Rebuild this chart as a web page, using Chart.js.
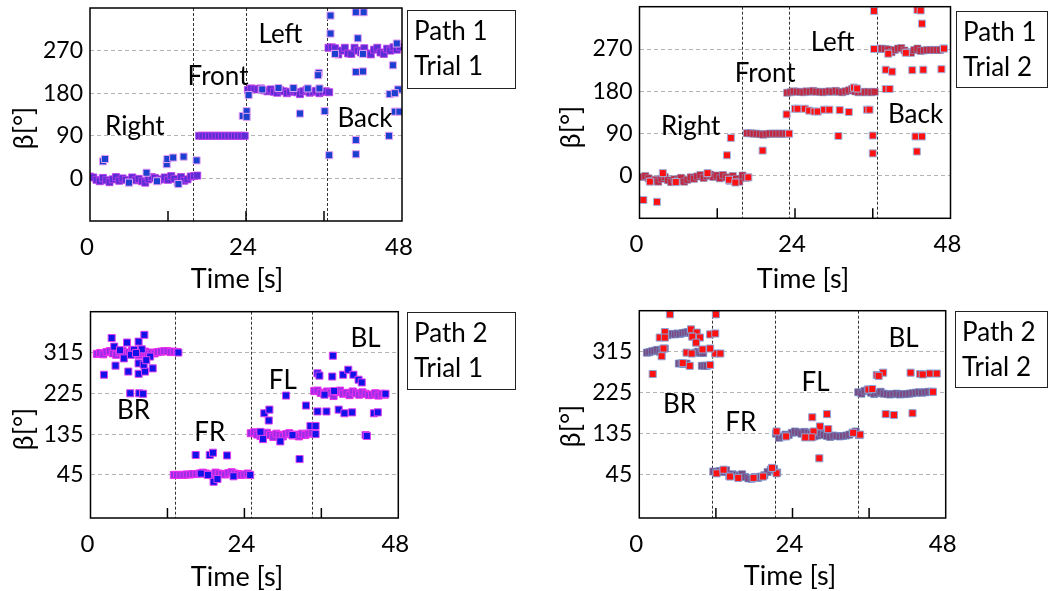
<!DOCTYPE html>
<html>
<head>
<meta charset="utf-8">
<script src="https://cdn.jsdelivr.net/npm/chart.js@4.4.0/dist/chart.umd.min.js"></script>
<style>
  html, body { margin: 0; padding: 0; background: #fff; }
  #wrap { position: relative; width: 1057px; height: 591px; overflow: hidden;
          font-family: Lato, "Open Sans", sans-serif; color: #000; }
  canvas { position: absolute; }
  .tag { position: absolute; box-sizing: border-box; border: 1px solid #222;
         font-size: 26px; line-height: 35px; padding: 2px 0 0 6px; white-space: nowrap; }
  .xt { position: absolute; font-size: 27px; white-space: nowrap; transform: translate(-50%, -50%); }
  .yt { position: absolute; font-size: 27px; white-space: nowrap; transform: translate(-50%, -50%) rotate(-90deg); }
</style>
</head>
<body>
<div id="wrap">
  <canvas id="c1" width="530" height="300" style="left:0;top:0;width:530px;height:300px"></canvas>
  <canvas id="c2" width="527" height="300" style="left:530px;top:0;width:527px;height:300px"></canvas>
  <canvas id="c3" width="530" height="291" style="left:0;top:300px;width:530px;height:291px"></canvas>
  <canvas id="c4" width="527" height="291" style="left:530px;top:300px;width:527px;height:291px"></canvas>

  <div class="tag" style="left:407px;top:10px;width:109px;height:79px">Path 1<br>Trial 1</div>
  <div class="tag" style="left:956px;top:11px;width:92px;height:77px">Path 1<br>Trial 2</div>
  <div class="tag" style="left:407px;top:312px;width:109px;height:78px">Path 2<br>Trial 1</div>
  <div class="tag" style="left:955px;top:311px;width:93px;height:77px">Path 2<br>Trial 2</div>

  <div class="xt" style="left:237px;top:277px">Time [s]</div>
  <div class="xt" style="left:803px;top:277px">Time [s]</div>
  <div class="xt" style="left:237px;top:575px">Time [s]</div>
  <div class="xt" style="left:790px;top:574px">Time [s]</div>

  <div class="yt" style="left:22px;top:128px">β[°]</div>
  <div class="yt" style="left:569px;top:127px">β[°]</div>
  <div class="yt" style="left:22px;top:429px">β[°]</div>
  <div class="yt" style="left:569px;top:426px">β[°]</div>
</div>
<script>
// ---- axes ----
const xTicks = [0, 12, 24, 36, 48];
const xLabelled = [0, 24, 48];
const yTicksPath1 = [0, 90, 180, 270];
const yTicksPath2 = [45, 135, 225, 315];

// ---- Path 1, Trial 1 ----
const p1BandT = [0.0,0.5,1.0,1.5,2.0,2.5,3.0,3.5,4.0,4.5,5.0,5.5,6.0,6.5,7.0,7.5,8.0,8.5,9.0,9.5,10.0,10.5,11.0,11.5,12.0,12.5,13.0,13.5,14.0,14.5,15.0,15.5,16.0,16.5,
  16.8,17.3,17.8,18.3,18.8,19.3,19.8,20.3,20.8,21.3,21.8,22.3,22.8,23.3,23.8,
  24.3,24.8,25.3,25.8,26.3,26.8,27.3,27.8,28.3,28.8,29.3,29.8,30.3,30.8,31.3,31.8,32.3,32.8,33.3,33.8,34.3,34.8,35.3,35.8,36.3,36.8,
  36.7,37.2,37.7,38.2,38.7,39.2,39.7,40.2,40.7,41.2,41.7,42.2,42.7,43.2,43.7,44.2,44.7,45.2,45.7,46.2,46.7,47.2,47.7];
const p1BandB = [4,2,-3,-6,1,-4,-8,-2,3,-5,0,-3,-7,2,-4,-1,-6,-9,-2,3,1,-4,-2,2,-3,5,-1,-8,3,-5,-2,4,5,6,
  90,90,90,90,90,90,90,90,90,90,90,90,90,90,90,
  187,190,189,188,190,186,184,188,183,181,186,184,180,183,186,182,178,184,187,181,183,185,180,183,184,182,
  276,277,275,262,270,276,264,263,276,270,266,275,264,262,272,276,266,263,274,270,277,272,278];
const p1Dots = [[2.0,36],[2.3,41],[11.8,30],[11.9,41],[12.8,44],[14.4,46],[16.4,38],[8.7,12],[6.0,-9],[13.6,-12],[10.3,-6],
  [23.5,132],[24.1,142],[24.1,130],[24.4,176],[32.3,137],[35.2,223],[35.1,218],[36.1,142],[35.3,190],[26.5,188],[29.0,191],[31.3,191],[33.5,190],
  [37.0,344],[37.0,306],[36.8,49],[40.9,81],[40.9,51],[40.9,225],[42.0,226],[40.9,351],[42.1,351],[41.2,296],[46.0,90],[46.6,239],
  [46.1,178],[47.4,188],[46.9,141],[47.6,141],[47.2,285],[46.9,180],[42.0,263],[37.7,263]];
const p1Splits = [15.9, 24.0, 36.4];
const p1Words = [['Right',6.9,111],['Front',19.7,217],['Left',29.3,305],['Back',42.3,128]];

// ---- Path 1, Trial 2 ----
const p2BandT = [0.4,0.9,1.4,1.9,2.4,2.9,3.4,3.9,4.4,4.9,5.4,5.9,6.4,6.9,7.4,7.9,8.4,8.9,9.4,9.9,10.4,10.9,11.4,11.9,12.4,12.9,13.4,13.9,14.4,14.9,15.4,15.9,16.4,
  16.6,17.1,17.6,18.1,18.6,19.1,19.6,20.1,20.6,21.1,21.6,22.1,22.6,
  22.8,23.3,23.8,24.3,24.8,25.3,25.8,26.3,26.8,27.3,27.8,28.3,28.8,29.3,29.8,30.3,30.8,31.3,31.8,32.3,32.8,33.3,33.8,34.3,34.8,35.3,35.8,36.3,
  36.4,36.9,37.4,37.9,38.4,38.9,39.4,39.9,40.4,40.9,41.4,41.9,42.4,42.9,43.4,43.9,44.4,44.9,45.4,45.9,46.4,46.9];
const p2BandB = [-2,0,-5,-11,-8,-12,-6,-2,-9,-13,-7,-10,-4,-12,-8,-3,-6,-1,2,-4,0,3,-2,1,-5,2,-3,-10,0,-6,-12,1,-4,
  91,91,90,90,89,88,89,90,90,90,90,90,90,
  177,178,180,179,179,178,180,179,181,179,179,178,179,180,179,181,179,178,180,182,185,180,178,179,178,179,178,179,
  270,270,271,270,269,263,268,271,272,267,263,262,268,271,266,267,268,268,268,268,268,271];
const p2Dots = [[0.0,-51],[0.6,-51],[2.7,-55],[13.5,44],[14.1,81],[1.6,-12],[5.6,-13],[10.5,6],[13.8,-8],[14.8,-14],[16.8,-3],[3.6,6],
  [19.0,54],[23.1,90],
  [22.7,131],[24.0,143],[24.4,143],[25.5,143],[26.2,139],[27.0,137],[27.5,137],[28.5,141],[29.3,141],[30.9,140],[32.3,136],[35.1,141],[35.5,141],
  [30.7,85],[36.0,86],[36.0,48],[36.2,351],[33.1,188],[33.6,186],
  [38.0,226],[39.0,222],[43.8,226],[42.1,225],[46.6,227],[38.0,185],[38.6,185],[42.9,353],[43.4,352],[43.6,324],[42.6,84],[43.6,84],[42.8,52],
  [36.2,270],[38.4,260],[41.1,262],[47.0,271]];
const p2Splits = [15.8, 23.0, 36.6];
const p2Words = [['Right',7.9,106],['Front',19.4,219],['Left',29.8,285],['Back',42.6,131]];

// ---- Path 2, Trial 1 ----
const p3BandT = [1.0,1.5,2.0,2.5,3.0,3.5,4.0,4.5,5.0,5.5,6.0,6.5,7.0,7.5,8.0,8.5,9.0,9.5,10.0,10.5,11.0,11.5,12.0,12.5,13.0,13.5,
  13.0,13.5,14.0,14.5,15.0,15.5,16.0,16.5,17.0,17.5,18.0,18.5,19.0,19.5,20.0,20.5,21.0,21.5,22.0,22.5,23.0,23.5,24.0,24.5,
  25.0,25.5,26.0,26.5,27.0,27.5,28.0,28.5,29.0,29.5,30.0,30.5,31.0,31.5,32.0,32.5,33.0,33.5,34.0,34.5,
  34.9,35.4,35.9,36.4,36.9,37.4,37.9,38.4,38.9,39.4,39.9,40.4,40.9,41.4,41.9,42.4,42.9,43.4,43.9,44.4,44.9,45.4,45.9];
const p3BandB = [312,314,311,316,318,313,310,316,319,312,315,320,313,309,314,317,312,315,313,316,317,318,318,316,317,316,
  45,45,45,45,46,46,47,47,48,50,48,46,44,50,48,47,46,49,51,48,47,45,46,48,
  137,139,134,131,136,138,133,129,136,133,130,135,137,132,134,130,136,133,136,138,
  230,231,226,224,229,226,219,228,231,224,226,221,229,225,222,227,224,221,222,225,220,224,222];
const p3Dots = [[3.3,347],[5.7,337],[7.5,339],[8.4,354],[8.0,322],[3.9,286],[2.1,266],[5.9,273],[7.5,268],[8.5,273],[7.5,291],[8.3,288],
  [9.7,280],[6.2,225],[7.6,225],[8.2,224],[5.2,302],[9.3,306],[3.7,328],[6.8,321],[4.6,320],[6.3,310],[7.1,314],[8.7,298],[13.7,315],
  [16.4,89],[18.6,89],[19.1,94],[21.3,88],[19.2,30],[18.3,45],[19.8,36],[22.3,42],[24.9,45],[17.2,48],
  [27.1,181],[27.9,189],[27.8,165],[30.5,220],[33.6,198],[32.6,80],[29.6,119],[26.9,124],[34.3,153],[35.1,153],[35.1,135],[26.5,140],[31.5,133],
  [37.8,308],[35.4,269],[35.7,264],[37.7,262],[39.4,266],[40.2,277],[41.0,266],[41.8,255],[42.3,249],[35.4,185],[36.8,185],[38.7,189],
  [39.6,181],[40.8,183],[42.9,133],[43.1,131],[44.2,181],[44.8,183],[36.5,222],[38.0,230],[46.0,224]];
const p3Splits = [13.1, 25.0, 34.5];
const p3Words = [['BR',6.7,189],['FR',18.6,140],['FL',30.0,254],['BL',42.9,348]];

// ---- Path 2, Trial 2 ----
const p4BandT = [1.2,1.6,2.0,2.4,2.8,3.2,3.6,4.0,4.4,4.8,5.2,5.6,6.0,6.4,6.8,7.2,7.6,8.0,6.2,6.6,7.0,7.4,9.8,10.2,10.6,8.8,9.2,9.6,10.0,
  11.6,12.1,12.6,13.1,13.6,14.1,14.6,15.1,15.6,16.1,16.6,17.1,17.6,18.1,18.6,19.1,19.6,20.1,20.6,21.1,21.6,
  21.4,21.9,22.4,22.9,23.4,23.9,24.4,24.9,25.4,25.9,26.4,26.9,27.4,27.9,28.4,28.9,29.4,29.9,30.4,30.9,31.4,31.9,32.4,32.9,33.4,33.9,34.4,
  34.3,34.8,35.3,35.8,36.3,36.8,37.3,37.8,38.3,38.8,39.3,39.8,40.3,40.8,41.3,41.8,42.3,42.8,43.3,43.8,44.3,44.8,45.3,45.8];
const p4BandB = [313,314,316,317,319,315,320,322,351,353,354,353,355,354,356,357,358,356,289,289,288,289,284,284,284,313,315,313,312,
  52,50,53,51,55,42,46,44,42,46,40,37,36,40,38,41,44,51,56,58,50,
  135,126,129,133,132,137,140,138,135,139,137,134,129,131,136,132,130,128,131,130,129,130,131,133,137,140,132,
  226,223,229,232,225,222,224,227,223,222,221,222,223,221,222,222,223,224,225,226,225,226,227,227];
const p4Dots = [[4.8,397],[12.0,397],[2.1,266],[3.2,346],[4.0,358],[4.0,346],[8.1,364],[9.0,357],[8.3,348],[9.5,346],[8.9,335],[9.9,320],
  [11.1,353],[11.9,355],[11.9,311],[12.7,311],[3.8,322],[3.5,305],[7.9,284],[11.1,286],[7.4,313],[8.2,311],[11.1,322],[6.8,290],
  [12.1,48],[14.2,41],[17.9,38],[19.4,41],[21.5,48],[13.2,56],[15.5,38],[20.8,60],
  [27.1,171],[29.4,178],[28.2,81],[28.3,151],[27.3,140],[29.6,145],[27.0,127],[21.5,140],[34.6,133],[26.0,127],[23.0,129],[33.5,137],
  [37.2,264],[38.2,269],[42.5,269],[44.0,266],[45.5,267],[46.6,267],[38.6,178],[39.9,176],[42.8,180],[35.9,232],[36.5,233],[37.5,262],[44.4,265],[46.0,227]];
const p4Splits = [11.4, 21.3, 34.3];
const p4Words = [['BR',6.3,200],['FR',15.9,160],['FL',27.6,249],['BL',41.4,344]];

// ---- panel geometry (page pixels) and marker colours: [fill, edge, edge width] ----
const panels = [
  { id: 'c1', box: [0, 0, 530, 300], area: [90, 8, 402, 221], yMin: -90, yMax: 360, yTicks: yTicksPath1,
    bandT: p1BandT, bandB: p1BandB, dots: p1Dots, splits: p1Splits, words: p1Words,
    band: ['#5b2dd4', '#c63cee', 0.8], dot: ['#1b40cf', '#e8a0f4', 1] },
  { id: 'c2', box: [530, 0, 527, 300], area: [639.5, 6.7, 950.5, 218.3], yMin: -90, yMax: 360, yTicks: yTicksPath1,
    bandT: p2BandT, bandB: p2BandB, dots: p2Dots, splits: p2Splits, words: p2Words,
    band: ['#c4263c', '#7f9bd0', 0.6], dot: ['#ff1111', '#a0b8e4', 1] },
  { id: 'c3', box: [0, 300, 530, 291], area: [90.5, 311.7, 398.3, 518], yMin: -50, yMax: 405, yTicks: yTicksPath2,
    bandT: p3BandT, bandB: p3BandB, dots: p3Dots, splits: p3Splits, words: p3Words,
    band: ['#9a2ee6', '#f02cf0', 1], dot: ['#1212e8', '#e040f0', 1] },
  { id: 'c4', box: [530, 300, 527, 291], area: [639.3, 310.7, 945.7, 518], yMin: -50, yMax: 405, yTicks: yTicksPath2,
    bandT: p4BandT, bandB: p4BandB, dots: p4Dots, splits: p4Splits, words: p4Words,
    band: ['#7c4a80', '#6f8cc8', 0.7], dot: ['#ff1111', '#8aa4d8', 1] }
];

Chart.defaults.font.family = 'Lato, "Open Sans", sans-serif';
Chart.defaults.color = '#000';

// segment boundaries, inner tick marks, frame and segment names
const panelDecor = {
  id: 'panelDecor',
  beforeDatasetsDraw(chart, args, opts) {
    const { ctx, chartArea: a, scales: { x } } = chart;
    ctx.save();
    ctx.strokeStyle = '#333';
    ctx.lineWidth = 1;
    ctx.setLineDash([3, 2]);
    opts.splits.forEach(t => {
      const px = Math.round(x.getPixelForValue(t)) + 0.5;
      ctx.beginPath(); ctx.moveTo(px, a.top); ctx.lineTo(px, a.bottom); ctx.stroke();
    });
    ctx.restore();
  },
  afterDraw(chart, args, opts) {
    const { ctx, chartArea: a, scales: { x, y } } = chart;
    ctx.save();
    ctx.strokeStyle = '#000';
    ctx.lineWidth = 1.5;
    xTicks.slice(1, -1).forEach(v => {
      const px = x.getPixelForValue(v);
      ctx.beginPath(); ctx.moveTo(px, a.bottom); ctx.lineTo(px, a.bottom - 10); ctx.stroke();
    });
    ctx.strokeRect(a.left, a.top, a.right - a.left, a.bottom - a.top);
    ctx.fillStyle = '#000';
    ctx.font = '26px Lato, "Open Sans", sans-serif';
    ctx.textAlign = 'center';
    ctx.textBaseline = 'alphabetic';
    opts.words.forEach(([txt, t, b]) => {
      ctx.fillText(txt, x.getPixelForValue(t), y.getPixelForValue(b) + 9);
    });
    ctx.restore();
  }
};

panels.forEach(p => {
  const [bx, by, bw, bh] = p.box;
  const [l, t, r, b] = p.area;
  const yAxisW = l - bx;
  const xAxisH = by + bh - b;
  const bandPts = p.bandT.map((tv, i) => ({ x: tv, y: p.bandB[i] }));
  const dotPts = p.dots.map(([tv, bv]) => ({ x: tv, y: bv }));

  new Chart(document.getElementById(p.id), {
    type: 'scatter',
    data: {
      datasets: [
        { label: 'spread', data: dotPts, order: 0, pointStyle: 'rect', pointRadius: 5,
          backgroundColor: p.dot[0], borderColor: p.dot[1], borderWidth: p.dot[2] },
        { label: 'track', data: bandPts, order: 1, pointStyle: 'rect', pointRadius: 5,
          backgroundColor: p.band[0], borderColor: p.band[1], borderWidth: p.band[2] }
      ]
    },
    options: {
      responsive: false,
      devicePixelRatio: 1,
      animation: false,
      events: [],
      layout: { autoPadding: false, padding: { left: 0, top: t - by, right: bx + bw - r, bottom: 0 } },
      plugins: {
        legend: { display: false },
        tooltip: { enabled: false },
        panelDecor: { splits: p.splits, words: p.words }
      },
      scales: {
        x: {
          type: 'linear', min: 0, max: 48,
          afterBuildTicks: s => { s.ticks = xTicks.map(v => ({ value: v })); },
          afterFit: s => { s.height = xAxisH; s.paddingLeft = 0; s.paddingRight = 0; },
          ticks: { autoSkip: false, maxRotation: 0, padding: 12, labelOffset: -3, font: { size: 24 }, color: '#000',
                   callback: v => xLabelled.includes(v) ? String(v) : '' },
          grid: { display: false, drawTicks: false },
          border: { display: false }
        },
        y: {
          type: 'linear', min: p.yMin, max: p.yMax,
          afterBuildTicks: s => { s.ticks = p.yTicks.map(v => ({ value: v })); },
          afterFit: s => { s.width = yAxisW; s.paddingTop = 0; s.paddingBottom = 0; },
          ticks: { autoSkip: false, padding: 7, font: { size: 23 }, color: '#000' },
          grid: { color: '#b4b4b4', lineWidth: 1, drawTicks: false },
          border: { display: false, dash: [4, 3] }
        }
      }
    },
    plugins: [panelDecor]
  });
});
</script>
</body>
</html>
